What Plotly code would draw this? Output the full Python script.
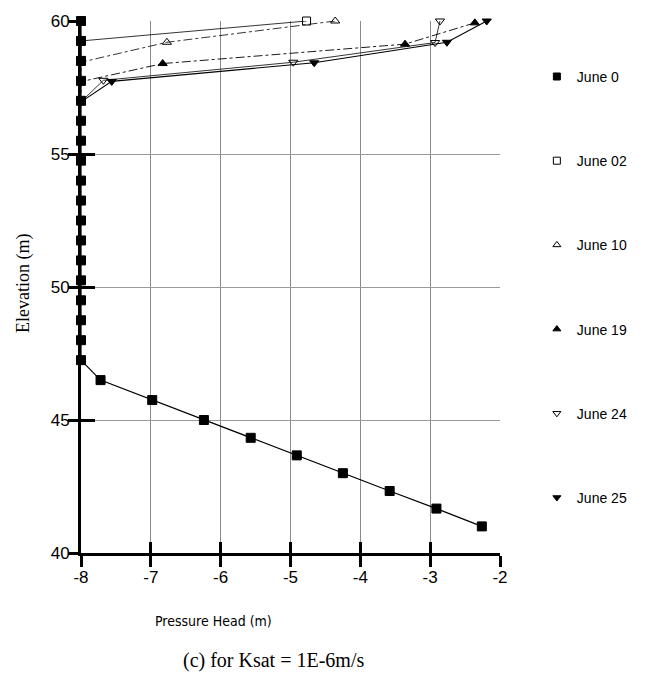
import plotly.graph_objects as go

# Elevation nodes of the soil column (m)
column_z = [60, 59.25, 58.5, 57.75, 57, 56.25, 55.5, 54.75, 54, 53.25,
            52.5, 51.75, 51, 50.25, 49.5, 48.75, 48, 47.25]
lower_z = [46.5, 45.75, 45, 44.33, 43.67, 43, 42.33, 41.67, 41]

# June 0: dry column at -8 m, hydrostatic below ~47 m
june0_p = [-8] * len(column_z) + [-7.72, -6.98, -6.24, -5.57, -4.91, -4.25, -3.58, -2.91, -2.26]
june0_z = column_z + lower_z

june02_p = [-4.77, -8, -8]
june02_z = [60, 59.25, 58.5]

june10_p = [-4.36, -6.77, -8, -8]
june10_z = [60, 59.2, 58.45, 57.75]

june19_p = [-2.36, -3.36, -6.83, -8, -8]
june19_z = [59.93, 59.13, 58.4, 57.72, 57]

june24_p = [-2.86, -2.93, -4.96, -7.68, -8]
june24_z = [60, 59.19, 58.45, 57.77, 56.96]

june25_p = [-2.19, -2.76, -4.66, -7.56, -8]
june25_z = [60, 59.2, 58.43, 57.73, 56.96]

x_ticks = [-8, -7, -6, -5, -4, -3, -2]
x_labels = ["-8", "-7", "-6", "-5", "-4", "-3", "-2"]
y_ticks = [40, 45, 50, 55, 60]
y_labels = ["40", "45", "50", "55", "60"]

series = [
    ("June 0", june0_p, june0_z, "square", 9, "solid", 1.2),
    ("June 02", june02_p, june02_z, "square-open", 8, "solid", 0.8),
    ("June 10", june10_p, june10_z, "triangle-up-open", 8, "dashdot", 0.8),
    ("June 19", june19_p, june19_z, "triangle-up", 8, "dashdot", 0.9),
    ("June 24", june24_p, june24_z, "triangle-down-open", 8, "solid", 0.8),
    ("June 25", june25_p, june25_z, "triangle-down", 8, "solid", 1.1),
]

fig = go.Figure()
for i, (name, p, z, sym, size, dash, lw) in enumerate(series):
    fig.add_trace(go.Scatter(
        x=p, y=z, name=name, mode="lines+markers", showlegend=False,
        cliponaxis=False,
        line=dict(color="black", width=lw, dash=dash),
        marker=dict(symbol=sym, size=size, color="black",
                    line=dict(color="black", width=1)),
    ))

# legend entries show the symbol only
for i, (name, p, z, sym, size, dash, lw) in enumerate(series):
    fig.add_trace(go.Scatter(
        x=[None], y=[None], name=name, mode="markers", legendgroup=f"g{i}",
        marker=dict(symbol=sym, size=7, color="black",
                    line=dict(color="black", width=1)),
    ))

# invisible trace to carry the mirrored tick axes
fig.add_trace(go.Scatter(x=[-8], y=[40], xaxis="x2", yaxis="y2",
                         mode="markers", marker=dict(opacity=0),
                         showlegend=False, hoverinfo="skip"))

tick_font = dict(family="Arial, Liberation Sans, sans-serif", size=17, color="black")

fig.update_layout(
    width=647, height=677,
    margin=dict(l=81, r=147, t=15, b=124),
    paper_bgcolor="white", plot_bgcolor="white",
    showlegend=True,
    legend=dict(x=1.088, y=0.925, xanchor="left", yanchor="top",
                font=dict(family="Arial, Liberation Sans, sans-serif", size=14, color="black"),
                tracegroupgap=63, bgcolor="rgba(0,0,0,0)", itemwidth=30),
    xaxis=dict(range=[-8, -2], tickvals=x_ticks, ticktext=x_labels, showgrid=True,
               gridcolor="#8a8a8a", gridwidth=1, zeroline=False,
               showline=True, linecolor="black", linewidth=3,
               ticks="outside", ticklen=11, tickwidth=3, tickcolor="black",
               tickfont=tick_font, ticklabelstandoff=-4),
    yaxis=dict(range=[40, 60], tickvals=y_ticks, ticktext=y_labels, showgrid=True,
               gridcolor="#9a9a9a", gridwidth=1, zeroline=False,
               showline=True, linecolor="black", linewidth=3,
               ticks="outside", ticklen=10, tickwidth=3, tickcolor="black",
               tickfont=tick_font, ticklabelstandoff=-5),
    xaxis2=dict(range=[-8, -2], tickvals=x_ticks, overlaying="x", side="bottom",
                showgrid=False, zeroline=False, showticklabels=False,
                ticks="inside", ticklen=11, tickwidth=3, tickcolor="black",
                anchor="y"),
    yaxis2=dict(range=[40, 60], tickvals=y_ticks, overlaying="y", side="left",
                showgrid=False, zeroline=False, showticklabels=False,
                ticks="inside", ticklen=14, tickwidth=3, tickcolor="black",
                anchor="x"),
    annotations=[
        dict(text="Elevation (m)", xref="paper", yref="paper",
             x=-(81 - 23) / 419, y=(553 - 281) / 538, xanchor="center", yanchor="middle",
             textangle=-90, showarrow=False,
             font=dict(family="Liberation Serif, Times New Roman, serif", size=18, color="black")),
        dict(text="Pressure Head (m)", xref="paper", yref="paper",
             x=(213 - 81) / 419, y=-(622 - 553) / 538, xanchor="center", yanchor="middle",
             showarrow=False,
             font=dict(family="DejaVu Sans Condensed, Liberation Sans Narrow, Arial, sans-serif",
                       size=14, color="black")),
        dict(text="(c) for Ksat = 1E-6m/s", xref="paper", yref="paper",
             x=(273 - 81) / 419, y=-(662 - 553) / 538, xanchor="center", yanchor="middle",
             showarrow=False,
             font=dict(family="Liberation Serif, Times New Roman, serif", size=20, color="black")),
    ],
)

fig.write_html("out.html")
